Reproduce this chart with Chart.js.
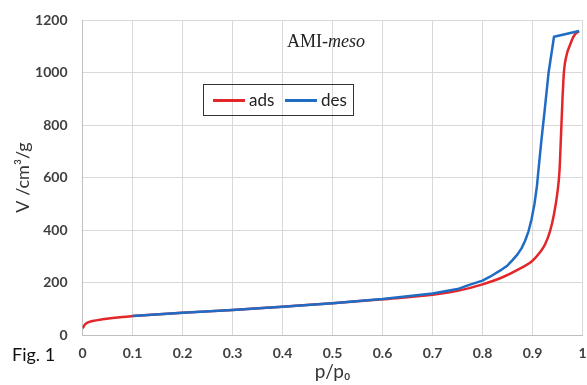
<!DOCTYPE html>
<html>
<head>
<meta charset="utf-8">
<script src="https://cdn.jsdelivr.net/npm/chart.js@4"></script>
<style>
html,body{margin:0;padding:0;background:#fff;}
#wrap{position:relative;width:587px;height:385px;}
canvas{position:absolute;left:0;top:0;}
.ov{position:absolute;white-space:nowrap;}
#ttl{left:287px;top:31px;font-family:"Liberation Serif",serif;font-size:18px;color:#222;}
#fig{left:12px;top:343px;font-family:Lato,sans-serif;font-size:18px;color:#111;}
#leg{left:203px;top:84px;width:151px;height:32px;border:1px solid #333;box-sizing:border-box;font-family:Lato,sans-serif;font-size:17px;color:#222;}
#leg .ln{position:absolute;top:14px;height:2.5px;width:32px;}
#leg .tx{position:absolute;top:4px;}
</style>
</head>
<body>
<div id="wrap">
<canvas id="c" width="587" height="385"></canvas>
<div class="ov" id="ttl">AMI-<i>meso</i></div>
<div class="ov" id="fig">Fig. 1</div>
<div class="ov" id="leg">
  <div class="ln" style="left:9px;background:#e3262a"></div><div class="tx" style="left:45px">ads</div>
  <div class="ln" style="left:81px;background:#1f6cc4"></div><div class="tx" style="left:117px">des</div>
</div>
</div>
<script>
const adsP = [0, 0.005, 0.01, 0.02, 0.04, 0.06, 0.08, 0.1, 0.2, 0.3, 0.4, 0.5, 0.6, 0.7, 0.75, 0.8, 0.84, 0.87, 0.9, 0.915, 0.925, 0.935, 0.943, 0.95, 0.954, 0.957, 0.96, 0.963, 0.968, 0.975, 0.983, 0.993];
const adsV = [25, 40, 47, 53, 60, 65, 69, 72, 85, 95, 108, 121, 136, 153, 168, 193, 220, 248, 283, 315, 345, 395, 460, 545, 625, 760, 900, 1005, 1065, 1105, 1140, 1158];
const desP = [0.1, 0.2, 0.3, 0.4, 0.5, 0.6, 0.7, 0.75, 0.775, 0.8, 0.815, 0.835, 0.85, 0.86, 0.87, 0.878, 0.885, 0.892, 0.898, 0.904, 0.909, 0.912, 0.918, 0.924, 0.932, 0.943, 0.993];
const desV = [72, 85, 95, 108, 121, 137, 158, 175, 192, 207, 222, 245, 265, 285, 307, 330, 358, 395, 440, 500, 570, 630, 745, 850, 997, 1136, 1158];
const xTicks = [0, 0.1, 0.2, 0.3, 0.4, 0.5, 0.6, 0.7, 0.8, 0.9, 1];
const yTicks = [0, 200, 400, 600, 800, 1000, 1200];

const toPts = (xs, ys) => xs.map((x, i) => ({x: x, y: ys[i]}));

new Chart(document.getElementById('c'), {
  type: 'scatter',
  data: {
    datasets: [
      {label: 'ads', data: toPts(adsP, adsV), showLine: true, borderColor: '#e3262a', borderWidth: 2.5, pointRadius: 0, cubicInterpolationMode: 'monotone', order: 2},
      {label: 'des', data: toPts(desP, desV), showLine: true, borderColor: '#1f6cc4', borderWidth: 2.5, pointRadius: 0, tension: 0, borderJoinStyle: 'round', order: 1}
    ]
  },
  options: {
    responsive: false,
    animation: false,
    layout: {padding: {top: 20, right: 4.5, left: 0, bottom: 0}},
    plugins: {legend: {display: false}, tooltip: {enabled: false}},
    scales: {
      x: {
        type: 'linear', min: 0, max: 1,
        afterBuildTicks: s => { s.ticks = xTicks.map(v => ({value: v})); },
        afterFit: s => { s.height = 50; s.paddingLeft = 0; s.paddingRight = 0; },
        grid: {color: '#d9d9d9', lineWidth: 1, drawTicks: false},
        border: {color: '#bfbfbf'},
        ticks: {padding: 10, color: '#404040', font: {family: 'Lato', size: 14, weight: 'bold'}, callback: v => String(v)},
        title: {display: true, text: 'p/p₀', color: '#333', font: {family: 'Lato', size: 19}, padding: {top: 0, bottom: 2}}
      },
      y: {
        type: 'linear', min: 0, max: 1200,
        afterBuildTicks: s => { s.ticks = yTicks.map(v => ({value: v})); },
        afterFit: s => { s.width = 82.5; s.paddingTop = 0; s.paddingBottom = 0; },
        grid: {color: '#d9d9d9', lineWidth: 1, drawTicks: false},
        border: {color: '#bfbfbf'},
        ticks: {padding: 15, color: '#404040', font: {family: 'Lato', size: 14, weight: 'bold'}, callback: v => String(v)},
        title: {display: true, text: 'V /cm³/g', color: '#333', font: {family: 'Lato', size: 18}, padding: {top: 12, bottom: 0}}
      }
    }
  }
});
</script>
</body>
</html>
